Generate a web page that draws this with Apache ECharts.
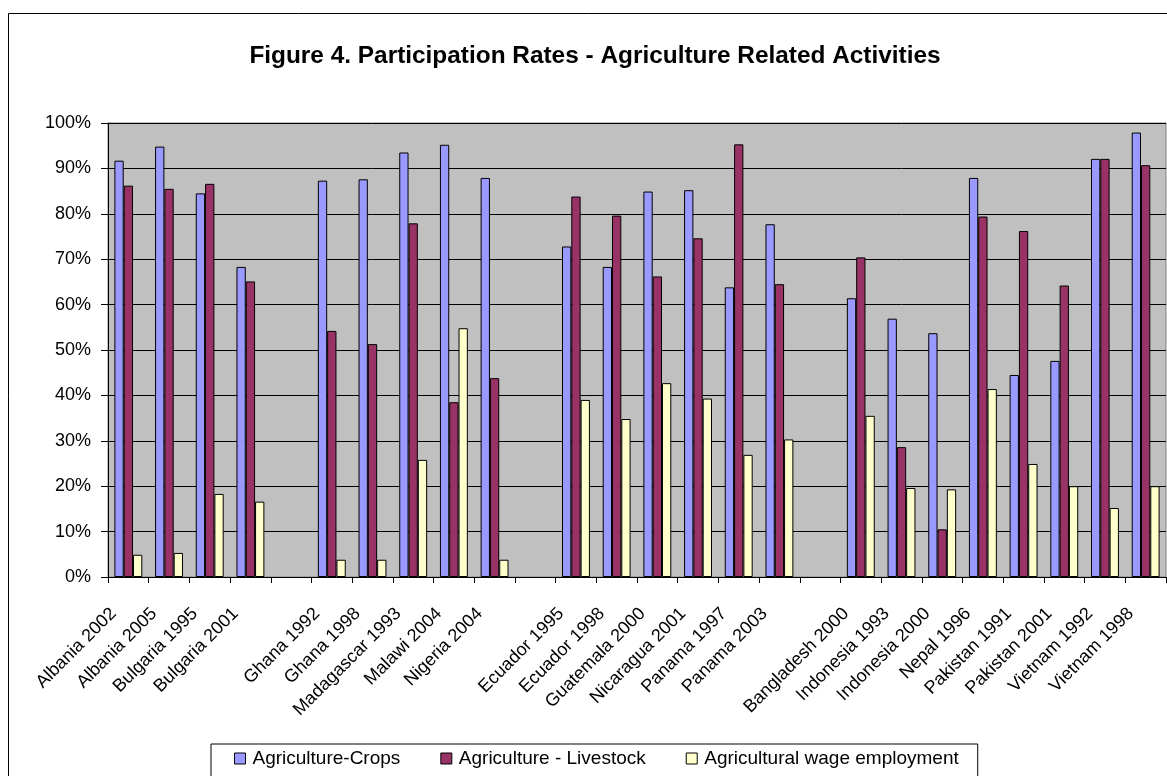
<!DOCTYPE html>
<html>
<head>
<meta charset="utf-8">
<script src="https://cdn.jsdelivr.net/npm/echarts@6/dist/echarts.min.js"></script>
<style>
html,body{margin:0;padding:0;background:#fff;}
#c{width:1167px;height:776px;}
</style>
</head>
<body>
<div id="c"></div>
<script>
var categories = ['Albania 2002','Albania 2005','Bulgaria 1995','Bulgaria 2001',' ',
  'Ghana 1992','Ghana 1998','Madagascar 1993','Malawi 2004','Nigeria 2004','  ',
  'Ecuador 1995','Ecuador 1998','Guatemala 2000','Nicaragua 2001','Panama 1997','Panama 2003','   ',
  'Bangladesh 2000','Indonesia 1993','Indonesia 2000','Nepal 1996','Pakistan 1991','Pakistan 2001','Vietnam 1992','Vietnam 1998'];
var crops = [91.7, 94.8, 84.5, 68.3, null, 87.3, 87.6, 93.5, 95.2, 87.9, null, 72.8, 68.3, 84.9, 85.2, 63.8, 77.7, null, 61.4, 56.9, 53.7, 87.9, 44.5, 47.6, 92.1, 97.9];
var livestock = [86.2, 85.5, 86.6, 65.1, null, 54.2, 51.3, 77.9, 38.5, 43.8, null, 83.8, 79.6, 66.2, 74.6, 95.3, 64.5, null, 70.4, 28.6, 10.5, 79.4, 76.2, 64.2, 92.1, 90.7];
var wage = [4.9, 5.3, 18.3, 16.6, null, 3.8, 3.8, 25.8, 54.8, 3.8, null, 39.0, 34.8, 42.7, 39.3, 26.9, 30.3, null, 35.5, 19.6, 19.3, 41.4, 24.9, 20.0, 15.2, 20.0];
var seriesNames = ['Agriculture-Crops','Agriculture - Livestock','Agricultural wage employment'];
var seriesColors = ['#9999FF','#993366','#FFFFCC'];

var FONT = 'Arial, "Liberation Sans", sans-serif';
var chart = echarts.init(document.getElementById('c'), null, {renderer:'canvas'});

function mkSeries(i, data){
  return {
    name: seriesNames[i], type:'bar', data:data,
    barWidth: 9.3, barGap:'0%',
    itemStyle:{color:seriesColors[i], borderColor:'#000', borderWidth:1},
    emphasis:{disabled:true}
  };
}

chart.setOption({
  animation:false,
  backgroundColor:'#fff',
  graphic:[{type:'rect', shape:{x:8.5,y:13.5,width:1300,height:900}, style:{fill:'none',stroke:'#000',lineWidth:1}, z:-10, silent:true}],
  title:{text:'Figure 4. Participation Rates - Agriculture Related Activities', left:590, textAlign:'center', top:39,
    textStyle:{fontFamily:FONT, fontSize:24.4, fontWeight:'bold', color:'#000'}},
  grid:{left:108, top:123, width:1058, height:454, show:true, backgroundColor:'#C0C0C0', borderColor:'#808080', borderWidth:1, containLabel:false},
  legend:{left:211, top:744, padding:[5,19,12,23], itemGap:40, itemWidth:11, itemHeight:11, icon:'rect',
    borderColor:'#000', borderWidth:1, backgroundColor:'#fff',
    itemStyle:{borderColor:'#000', borderWidth:1},
    textStyle:{fontFamily:FONT, fontSize:19, color:'#000', padding:[0,0,0,2]},
    data:seriesNames},
  xAxis:{type:'category', data:categories,
    axisLine:{lineStyle:{color:'#000',width:1}},
    axisTick:{show:true, length:6, lineStyle:{color:'#000'}},
    axisLabel:{rotate:45, interval:0, margin:19, padding:[0,21,0,0], fontFamily:FONT, fontSize:18, color:'#000'},
    splitLine:{show:false}},
  yAxis:{type:'value', min:0, max:100, interval:10,
    axisLine:{show:true, lineStyle:{color:'#000',width:1}},
    axisTick:{show:true, length:7, lineStyle:{color:'#000'}},
    axisLabel:{formatter:'{value}%', margin:17, fontFamily:FONT, fontSize:18, color:'#000'},
    splitLine:{show:true, lineStyle:{color:'#000', width:1}}},
  series:[mkSeries(0,crops), mkSeries(1,livestock), mkSeries(2,wage)]
});
</script>
</body>
</html>
